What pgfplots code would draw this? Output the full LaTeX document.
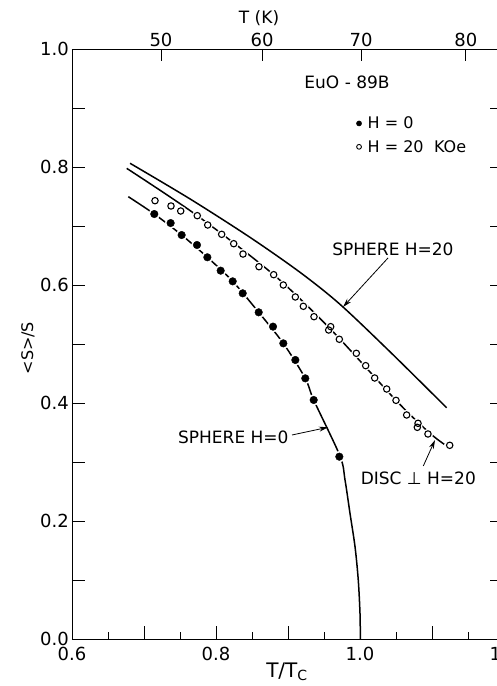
\documentclass[border=0pt]{standalone}
\usepackage{pgfplots}
\pgfplotsset{compat=1.18}
\usepackage{fontspec}
\setmainfont{DejaVu Sans}
\usetikzlibrary{arrows.meta}
\newcommand{\tfont}{\fontsize{18}{20}\selectfont}
\newcommand{\afont}{\fontsize{17}{19}\selectfont}
\newcommand{\lfont}{\fontsize{16}{18}\selectfont}
\begin{document}
\begin{tikzpicture}
\begin{axis}[
  scale only axis, width=432pt, height=590pt,
  xmin=0.6, xmax=1.2, ymin=0, ymax=1,
  clip=false,
  axis line style={line width=0.9pt},
  tick align=inside,
  xtick pos=bottom, ytick pos=both,
  xtick={0.6,0.7,0.8,0.9,1.0,1.1,1.2},
  xticklabels={0.6,,0.8,,1.0,,1.2},
  minor xtick={0.65,0.75,0.85,0.95,1.05,1.15},
  ytick={0,0.1,0.2,0.3,0.4,0.5,0.6,0.7,0.8,0.9,1.0},
  yticklabels={0.0,,0.2,,0.4,,0.6,,0.8,,1.0},
  major tick length=13.5pt, minor tick length=7pt,
  every tick/.style={line width=0.9pt, black},
  every minor tick/.style={line width=0.9pt, black},
  xticklabel style={font=\tfont, inner sep=3pt, yshift=-5pt},
  yticklabel style={font=\tfont, inner sep=3pt},
  xlabel={T/T\textsubscript{C}},
  xlabel style={font=\fontsize{20}{22}\selectfont, at={(rel axis cs:0.4977,-0.056)}, anchor=center},
  ylabel={<S>/S},
  ylabel style={font=\lfont, at={(rel axis cs:-0.102,0.493)}, anchor=center},
  legend style={at={(rel axis cs:0.658,0.854)}, anchor=west, draw=none, fill=none,
     font=\lfont, inner sep=0pt, row sep=6pt},
  legend cell align=left,
]
% SPHERE H=20 (upper curve)
\addplot[black, line width=1.5pt, smooth, forget plot] coordinates {
 (0.6806,0.8063) (0.7639,0.7459) (0.8472,0.6808) (0.9167,0.6215) (0.9722,0.5673) (1.0417,0.4868) (1.1204,0.3919)
};
% DISC perp H=20
\addplot[black, line width=1.5pt, smooth, forget plot] coordinates {
 (0.676,0.7977) (0.774,0.7175) (0.88,0.6175) (0.96,0.524) (1.05,0.4045) (1.095,0.351) (1.117,0.330)
};
% SPHERE H=0
\addplot[black, line width=1.5pt, smooth, forget plot] coordinates {
 (0.6782,0.7497) (0.7143,0.7203) (0.7523,0.6847) (0.788,0.647) (0.8232,0.6062) (0.8593,0.5537)
 (0.8935,0.5011) (0.924,0.4418) (0.9357,0.4051) (0.9722,0.3102) (0.9792,0.2695)
 (0.9861,0.2131) (0.9931,0.1564) (0.9976,0.1) (1.0,0.0436) (1.0005,0)
};
% white halos
\addplot[only marks, mark=*, mark size=5.6pt, white, forget plot] coordinates {
 (0.7143,0.7203) (0.737,0.705) (0.7523,0.6847) (0.7736,0.6678) (0.788,0.647) (0.8065,0.6243)
 (0.8232,0.6062) (0.8371,0.5859) (0.8593,0.5537) (0.8792,0.5294) (0.8935,0.5011) (0.9102,0.4729)
 (0.924,0.4418) (0.9357,0.4051) (0.9713,0.309)
};
\addplot[only marks, mark=*, mark size=5pt, white, forget plot] coordinates {
 (0.7153,0.7429) (0.7375,0.7339) (0.751,0.7254) (0.774,0.7175) (0.7885,0.7017) (0.8079,0.6859)
 (0.8246,0.670) (0.8375,0.6525) (0.8597,0.631) (0.8801,0.6175) (0.8935,0.600) (0.9102,0.5797)
 (0.9213,0.5639) (0.9361,0.5463) (0.9593,0.5294) (0.9565,0.5237) (0.9713,0.508) (0.9949,0.4842)
 (1.0079,0.4633) (1.0204,0.4424) (1.0371,0.4237) (1.05,0.4045) (1.0648,0.3797) (1.0806,0.3656)
 (1.0796,0.3588) (1.0944,0.3475) (1.1246,0.3283)
};
% H=0 data
\addplot[only marks, mark=*, mark size=3.8pt, black, forget plot] coordinates {
 (0.7143,0.7203) (0.737,0.705) (0.7523,0.6847) (0.7736,0.6678) (0.788,0.647) (0.8065,0.6243)
 (0.8232,0.6062) (0.8371,0.5859) (0.8593,0.5537) (0.8792,0.5294) (0.8935,0.5011) (0.9102,0.4729)
 (0.924,0.4418) (0.9357,0.4051) (0.9713,0.309)
};
% H=20 data
\addplot[only marks, mark=o, mark size=3.2pt, black, mark options={line width=1.1pt}, forget plot] coordinates {
 (0.7153,0.7429) (0.7375,0.7339) (0.751,0.7254) (0.774,0.7175) (0.7885,0.7017) (0.8079,0.6859)
 (0.8246,0.670) (0.8375,0.6525) (0.8597,0.631) (0.8801,0.6175) (0.8935,0.600) (0.9102,0.5797)
 (0.9213,0.5639) (0.9361,0.5463) (0.9593,0.5294) (0.9565,0.5237) (0.9713,0.508) (0.9949,0.4842)
 (1.0079,0.4633) (1.0204,0.4424) (1.0371,0.4237) (1.05,0.4045) (1.0648,0.3797) (1.0806,0.3656)
 (1.0796,0.3588) (1.0944,0.3475) (1.1246,0.3283)
};
\addlegendimage{only marks, mark=*, mark size=2.6pt, black}
\addlegendentry{\hspace{4pt}H = 0}
\addlegendimage{only marks, mark=o, mark size=2.4pt, black, mark options={line width=0.9pt}}
\addlegendentry{\hspace{4pt}H = 20\,\, KOe}
% annotations
\node[font=\afont] at (axis cs:0.982,0.944) {EuO - 89B};
\node[font=\afont] at (axis cs:1.0458,0.661) {SPHERE H=20};
\draw[-{Stealth[length=9pt,width=5pt]}, line width=0.8pt] (axis cs:1.0389,0.6458) -- (axis cs:0.9764,0.5627);
\node[font=\afont] at (axis cs:0.8241,0.3412) {SPHERE H=0};
\draw[-{Stealth[length=9pt,width=5pt]}, line width=0.8pt] (axis cs:0.9056,0.3458) -- (axis cs:0.9556,0.3588);
\node[font=\afont] at (axis cs:1.081,0.2724) {DISC ⊥ H=20};
\draw[-{Stealth[length=9pt,width=5pt]}, line width=0.8pt] (axis cs:1.0879,0.2932) -- (axis cs:1.1042,0.3373);
\end{axis}
\begin{axis}[
  scale only axis, width=432pt, height=590pt,
  xmin=0.6, xmax=1.2, ymin=0, ymax=1,
  axis x line*=top, axis y line=none,
  x axis line style={-, line width=0.9pt},
  tick align=inside,
  xtick={0.7236,0.8639,1.0014,1.147},
  xticklabels={50,60,70,80},
  major tick length=12pt,
  every tick/.style={line width=0.9pt, black},
  xticklabel style={font=\tfont, inner sep=2pt},
  xlabel={T (K)},
  xlabel style={font=\afont, at={(rel axis cs:0.433,1.0525)}, anchor=center},
]
\end{axis}
\pgfresetboundingbox
\path[use as bounding box] (-72pt,-47pt) rectangle (424pt,639pt);
\end{tikzpicture}
\end{document}
